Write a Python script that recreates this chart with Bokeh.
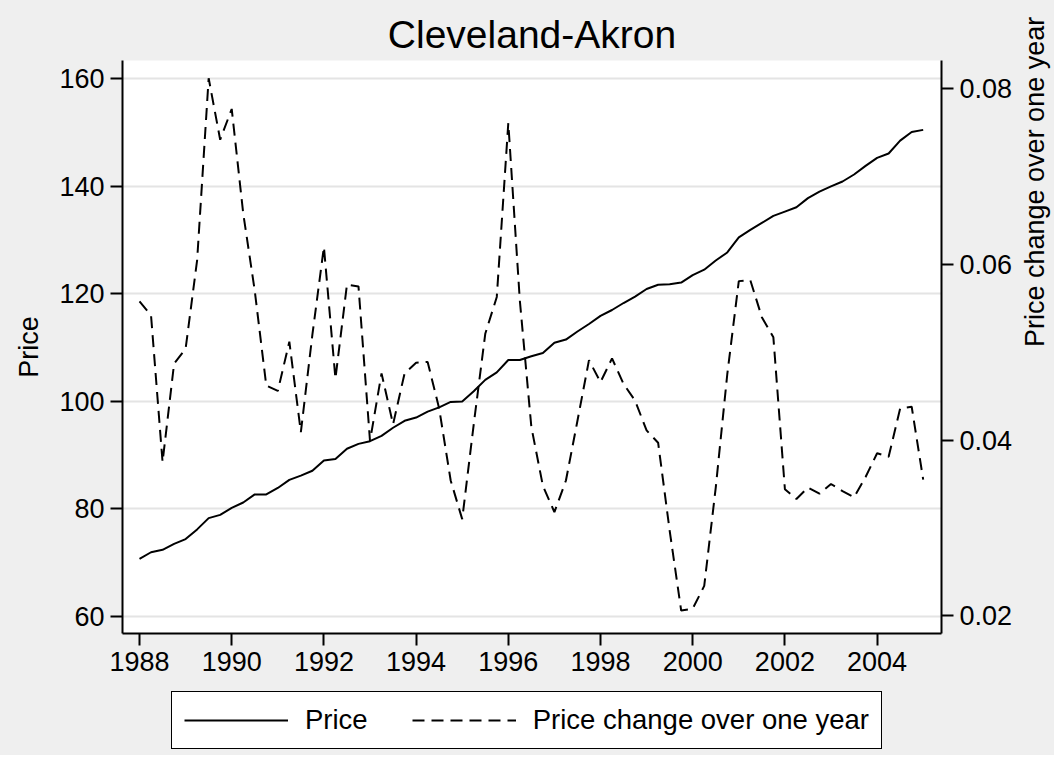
import math
import numpy as np
from bokeh.plotting import figure
from bokeh.layouts import column
from bokeh.models import (Range1d, LinearAxis, Legend, LegendItem, FixedTicker,
                          ColumnDataSource, PrintfTickFormatter)
from bokeh.embed import file_html
from bokeh.resources import INLINE

# ---- data (quarterly, 1988Q1 .. 2005Q1) ----
quarters = [1988 + q / 4 for q in range(69)]
price = [70.7, 71.95, 72.4, 73.5, 74.4, 76.2, 78.3, 78.9, 80.2, 81.2,
         82.7, 82.7, 83.9, 85.4, 86.2, 87.1, 89.0, 89.3, 91.2, 92.1,
         92.6, 93.6, 95.1, 96.4, 97.0, 98.1, 98.9, 99.9, 100.0, 101.9,
         104.0, 105.4, 107.7, 107.7, 108.4, 109.0, 110.9, 111.5, 113.0, 114.4,
         115.9, 117.0, 118.3, 119.5, 120.9, 121.7, 121.8, 122.1, 123.5, 124.5,
         126.2, 127.7, 130.5, 131.9, 133.2, 134.5, 135.3, 136.1, 137.8, 139.0,
         140.0, 140.9, 142.2, 143.8, 145.3, 146.1, 148.5, 150.1, 150.5]
change = [0.0558, 0.0542, 0.0375, 0.0487, 0.0504, 0.0605, 0.0812, 0.0742, 0.0777, 0.0658,
          0.0570, 0.0462, 0.0456, 0.0512, 0.0409, 0.0520, 0.0620, 0.0470, 0.0577, 0.0575,
          0.0399, 0.0476, 0.0418, 0.0476, 0.0488, 0.0489, 0.0436, 0.0354, 0.0310, 0.0418,
          0.0521, 0.0563, 0.0761, 0.0559, 0.0415, 0.0348, 0.0318, 0.0354, 0.0422, 0.0491,
          0.0466, 0.0493, 0.0464, 0.0445, 0.0411, 0.0397, 0.0297, 0.0206, 0.0208, 0.0234,
          0.0346, 0.0475, 0.0581, 0.0582, 0.0540, 0.0517, 0.0344, 0.0333, 0.0346, 0.0339,
          0.0350, 0.0342, 0.0335, 0.0358, 0.0385, 0.0381, 0.0436, 0.0438, 0.0355]
year_ticks = [1988, 1990, 1992, 1994, 1996, 1998, 2000, 2002, 2004]
price_ticks = [60, 80, 100, 120, 140, 160]
change_ticks = [0.02, 0.04, 0.06, 0.08]
series_labels = ["Price", "Price change over one year"]

FONT = "Liberation Sans"
BG = "#EFEFEF"
DASH = "12 7"
LEFT, RIGHT, FW = 122, 105, 819

src = ColumnDataSource(dict(x=quarters, price=price, change=change))

fig = figure(frame_width=FW, frame_height=573, output_backend="svg", toolbar_location=None,
             x_range=Range1d(1987.631, 2005.397), y_range=Range1d(56.84, 163.4),
             min_border_left=LEFT, min_border_right=RIGHT, min_border_top=60,
             min_border_bottom=58)
fig.extra_y_ranges = {"chg": Range1d(0.01798, 0.08322)}

fig.background_fill_color = "white"
fig.border_fill_color = BG
fig.outline_line_color = None

fig.title.text = "Cleveland-Akron"
fig.title.align = "center"
fig.title.text_font = FONT
fig.title.text_font_size = "39px"
fig.title.text_font_style = "normal"
fig.title.text_color = "black"

def style_axis(ax):
    ax.axis_line_color = "black"
    ax.axis_line_width = 2
    ax.major_tick_line_color = "black"
    ax.major_tick_line_width = 2
    ax.major_tick_out = 12
    ax.major_tick_in = 0
    ax.minor_tick_line_color = None
    ax.major_label_text_font = FONT
    ax.major_label_text_font_size = "27px"
    ax.major_label_text_color = "black"
    ax.major_label_standoff = 6
    ax.axis_label_text_font = FONT
    ax.axis_label_text_font_size = "27px"
    ax.axis_label_text_font_style = "normal"
    ax.axis_label_text_color = "black"

xax = fig.xaxis[0]
xax.ticker = FixedTicker(ticks=year_ticks)
style_axis(xax)

yax = fig.yaxis[0]
yax.ticker = FixedTicker(ticks=price_ticks)
yax.axis_label = "Price"
style_axis(yax)
yax.axis_label_standoff = 12

rax = LinearAxis(y_range_name="chg", ticker=FixedTicker(ticks=change_ticks),
                 formatter=PrintfTickFormatter(format="%.2f"),
                 axis_label="Price change over one year")
style_axis(rax)
rax.axis_label_standoff = 20
rax.axis_label_orientation = math.pi / 2
fig.add_layout(rax, "right")

fig.xgrid.grid_line_color = None
fig.ygrid.ticker = FixedTicker(ticks=price_ticks)
fig.ygrid.grid_line_color = "#E4E4E4"
fig.ygrid.grid_line_width = 2

fig.line("x", "price", source=src, line_color="black", line_width=2)
fig.line("x", "change", source=src, y_range_name="chg", line_color="black",
         line_width=2, line_dash=DASH)

# ---- legend strip below the chart (same borders as the chart) ----
leg = figure(frame_width=FW, frame_height=64, output_backend="svg", toolbar_location=None,
             x_axis_type=None, y_axis_type=None, x_range=Range1d(0, 1), y_range=Range1d(0, 1),
             min_border_left=LEFT, min_border_right=RIGHT, min_border_top=0,
             min_border_bottom=0)
leg.background_fill_color = BG
leg.border_fill_color = BG
leg.outline_line_color = None
leg.xgrid.grid_line_color = None
leg.ygrid.grid_line_color = None
# keys only: their points lie outside the strip's ranges
l1 = leg.line(x=[5, 6], y=[5, 6], line_color="black", line_width=2)
l2 = leg.line(x=[5, 6], y=[5, 6], line_color="black", line_width=2, line_dash=DASH)

legend = Legend(items=[LegendItem(label=series_labels[0], renderers=[l1]),
                       LegendItem(label=series_labels[1], renderers=[l2])],
                orientation="horizontal", location=(49, 6),
                label_text_font=FONT, label_text_font_size="27.5px", label_text_color="black",
                glyph_width=104, glyph_height=28, label_height=28,
                label_standoff=17, spacing=44, padding=12, margin=0,
                border_line_color="black", border_line_width=1.5, border_line_alpha=1,
                background_fill_color="white", background_fill_alpha=1)
leg.add_layout(legend, "center")

p = column(fig, leg, spacing=0, styles={"background-color": BG})

open("out.html", "w").write(file_html(p, INLINE))
